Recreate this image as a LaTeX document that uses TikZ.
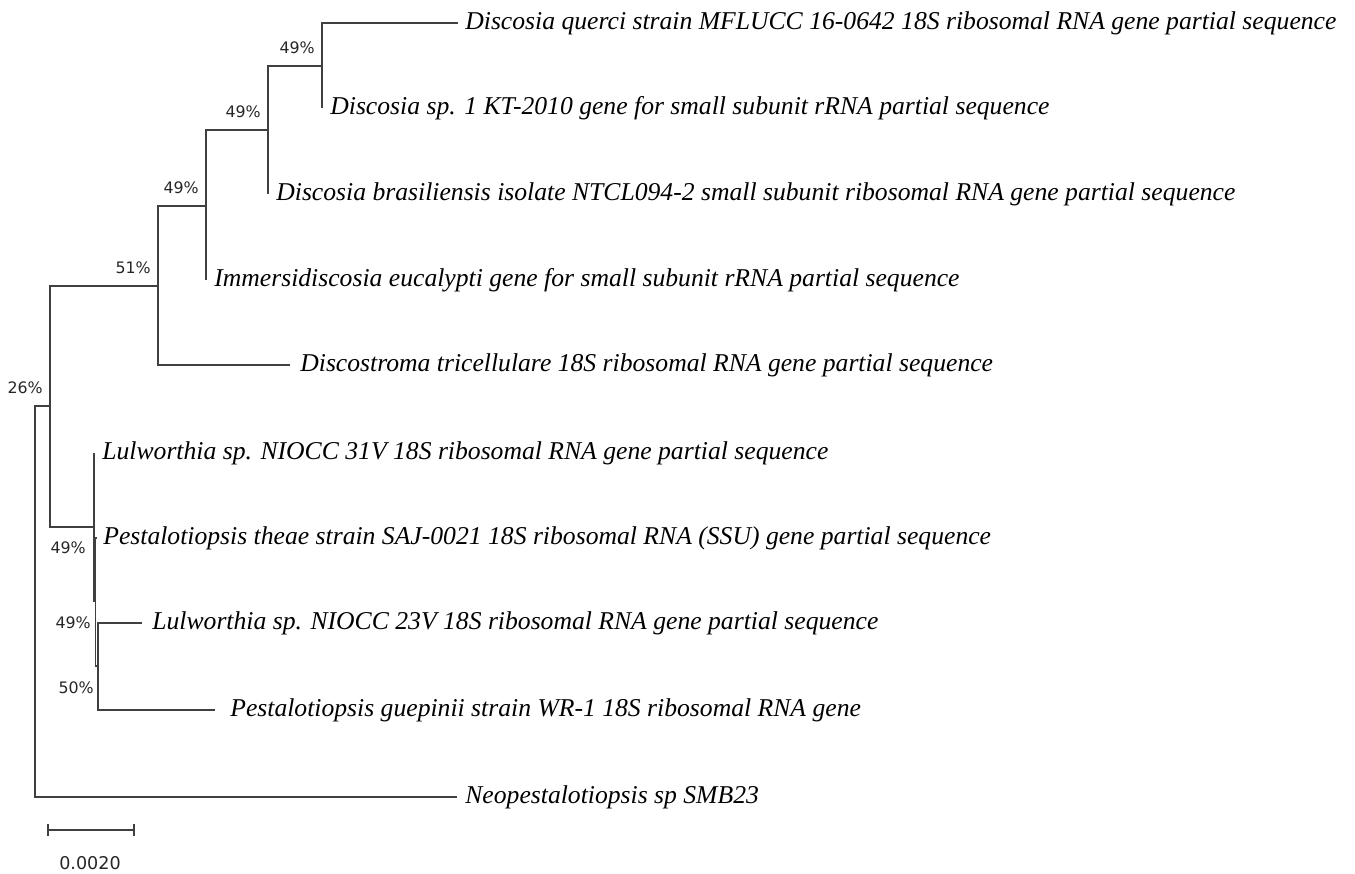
\documentclass[tikz,border=0pt]{standalone}
\usepackage{fontspec}
\setmainfont{Liberation Serif}
\newfontfamily\bootfont{DejaVu Sans}

\begin{document}
\begin{tikzpicture}[x=0.02cm,y=-0.02cm,
  branch/.style={black!75,line width=0.6pt},
  taxon/.style={anchor=base west,inner sep=0pt,font=\fontsize{14.6}{17}\selectfont\itshape},
  boot/.style={anchor=east,inner sep=0pt,black!85,font=\bootfont\fontsize{9}{11}\selectfont}]
  \useasboundingbox (0,0) rectangle (1355,874);
  % inner nodes
  \coordinate (root) at (35,601);
  \coordinate (n1) at (50,406);
  \coordinate (n2) at (158,286);
  \coordinate (n3) at (206,206);
  \coordinate (n4) at (268,130);
  \coordinate (n5) at (322,66);
  \coordinate (nA) at (94,527);
  \coordinate (nB) at (95.5,601);
  \coordinate (nC) at (98,666);
  % leaf ends
  \coordinate (querci) at (458,23);
  \coordinate (spone) at (322,108);
  \coordinate (brasil) at (268,194);
  \coordinate (immersi) at (206,280);
  \coordinate (tricell) at (290,365);
  \coordinate (lulA) at (94,453);
  \coordinate (theae) at (96,538);
  \coordinate (lulB) at (142,623);
  \coordinate (guepin) at (215,710);
  \coordinate (neo) at (457,797);
  % branches
  \foreach \p/\c in {root/n1,root/neo,n1/n2,n1/nA,n2/n3,n2/tricell,n3/n4,n3/immersi,
    n4/n5,n4/brasil,n5/querci,n5/spone,nA/lulA,nA/nB,nB/theae,nB/nC,nC/lulB,nC/guepin}
    {\draw[branch] (\p) |- (\c);}
  % taxa
  \node[taxon] (tquerci) at ([shift={(7,6.5)}]querci) {Discosia querci strain MFLUCC 16-0642 18S ribosomal RNA gene partial sequence};
  \node[taxon] (tspone) at ([shift={(8,6.5)}]spone) {Discosia sp. 1 KT-2010 gene for small subunit rRNA partial sequence};
  \node[taxon] (tbrasil) at ([shift={(8,6.5)}]brasil) {Discosia brasiliensis isolate NTCL094-2 small subunit ribosomal RNA gene partial sequence};
  \node[taxon] (timmersi) at ([shift={(8,6.5)}]immersi) {Immersidiscosia eucalypti gene for small subunit rRNA partial sequence};
  \node[taxon] (ttricell) at ([shift={(10,6.5)}]tricell) {Discostroma tricellulare 18S ribosomal RNA gene partial sequence};
  \node[taxon] (tlulA) at ([shift={(8,6.5)}]lulA) {Lulworthia sp. NIOCC 31V 18S ribosomal RNA gene partial sequence};
  \node[taxon] (ttheae) at ([shift={(7,6.5)}]theae) {Pestalotiopsis theae strain SAJ-0021 18S ribosomal RNA (SSU) gene partial sequence};
  \node[taxon] (tlulB) at ([shift={(10,6.5)}]lulB) {Lulworthia sp. NIOCC 23V 18S ribosomal RNA gene partial sequence};
  \node[taxon] (tguepin) at ([shift={(15,6.5)}]guepin) {Pestalotiopsis guepinii strain WR-1 18S ribosomal RNA gene};
  \node[taxon] (tneo) at ([shift={(8,6.5)}]neo) {Neopestalotiopsis sp SMB23};
  % bootstrap values
  \foreach \n/\v in {n1/26,n2/51,n3/49,n4/49,n5/49}
    {\node[boot] (b\n) at ([shift={(-7,-18)}]\n) {\v\%};}
  \node[boot] (bnA) at ([shift={(-8,21)}]nA) {49\%};
  \node[boot] (bnB) at ([shift={(-4.5,22)}]nB) {49\%};
  \node[boot] (bnC) at ([shift={(-4,22)}]nC) {50\%};
  % scale bar
  \coordinate (sbl) at (48,830);
  \coordinate (sbr) at (134,830);
  \draw[branch] (sbl) -- (sbr);
  \draw[branch] ([yshift=-3.5]sbl) -- ([yshift=3.5]sbl);
  \draw[branch] ([yshift=-3.5]sbr) -- ([yshift=3.5]sbr);
  \node[inner sep=0pt,black!85,font=\bootfont\fontsize{10}{12}\selectfont] (sblabel) at (90,863) {0.0020};
\end{tikzpicture}
\end{document}
